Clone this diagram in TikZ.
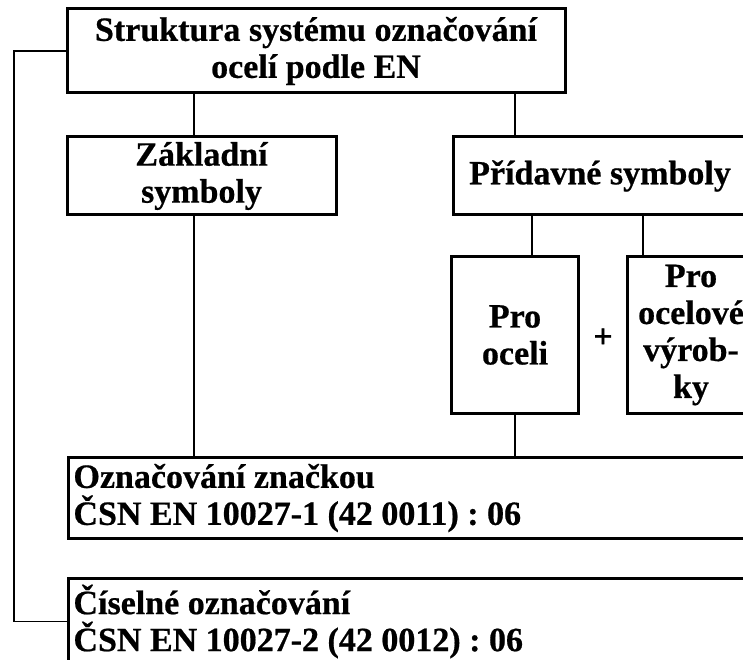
\documentclass[tikz,border=0pt]{standalone}
\usepackage{fontspec}
\setmainfont{Liberation Serif}[BoldFeatures={FakeBold=0.6}]
\begin{document}
\frenchspacing
\begin{tikzpicture}[x=1pt,y=-1pt,
  txt/.style={font=\fontsize{34}{37}\selectfont\bfseries},
  box/.style={txt,draw=black,line width=3pt,fill=white,inner sep=0pt,align=center},
  lbox/.style={txt,draw=black,line width=3pt,fill=white,inner xsep=5pt,inner ysep=0pt,
    text width=690pt,align=left,anchor=north west,
    execute at begin node={\spaceskip=0pt\xspaceskip=0pt\relax}},
  conn/.style={draw=black,line width=1.6pt}]
\useasboundingbox (0,0) rectangle (743,660);
\node[box,minimum width=498pt,minimum height=84pt] (top) at (316,51) {Struktura systému označování\\ocelí podle EN};
\node[box,minimum width=269pt,minimum height=78pt] (zakl) at (201.5,176) {Základní\\symboly};
\node[box,minimum width=294pt,minimum height=78pt] (prid) at (600,176) {Přídavné symboly};
\node[box,minimum width=127pt,minimum height=157pt] (proc) at (515,335) {Pro\\oceli};
\node[box,minimum width=128pt,minimum height=157pt] (prov) at (691,335) {Pro\\ocelové\\výrob-\\ky};
\node[txt,inner sep=0pt] (plus) at (603,338) {+};
\node[lbox,minimum height=81pt] (ozn) at (67,456) {Označování značkou\\ČSN EN 10027-1 (42 0011) : 06};
\node[lbox,minimum height=86pt] (cis) at (67,577) {Číselné označování\\ČSN EN 10027-2 (42 0012) : 06};
\coordinate (lc) at (14,0);
\coordinate (c1) at (194,0);
\coordinate (c2) at (515,0);
\coordinate (c3) at (532,0);
\coordinate (c4) at (643,0);
\draw[conn] (top.west) -- (top.west -| lc) |- (cis.west);
\draw[conn] (top.south -| c1) -- (zakl.north -| c1);
\draw[conn] (zakl.south -| c1) -- (ozn.north -| c1);
\draw[conn] (top.south -| c2) -- (prid.north -| c2);
\draw[conn] (prid.south -| c3) -- (proc.north -| c3);
\draw[conn] (prid.south -| c4) -- (prov.north -| c4);
\draw[conn] (proc.south) -- (ozn.north -| proc.south);
\end{tikzpicture}
\end{document}
